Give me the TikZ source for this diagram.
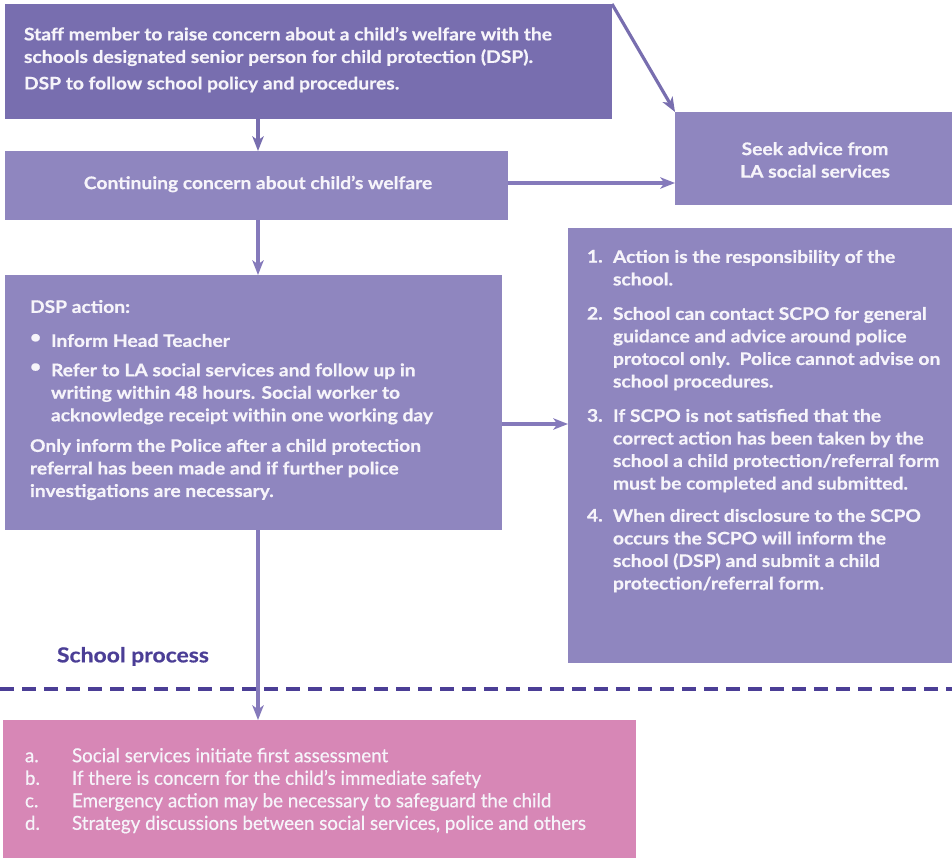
\documentclass[tikz,border=0pt]{standalone}
\usepackage{fontspec}
\setmainfont{Lato}
\newfontfamily\wfont{Lato}[FakeStretch=1.11,FakeBold=0.6]
\newfontfamily\pfont{Lato}[FakeStretch=0.97,FakeBold=0.5]
\usetikzlibrary{arrows.meta}
\definecolor{boxdark}{HTML}{786EAF}
\definecolor{boxlight}{HTML}{8F86BF}
\definecolor{pinkbox}{HTML}{D787B6}
\definecolor{arrowc}{HTML}{857ABB}
\definecolor{darkline}{HTML}{4B3E96}
\definecolor{txt}{HTML}{F6F4FA}
\newcommand{\plab}[1]{\makebox[35.25pt][l]{#1}}
\tikzset{
  btext/.style={inner sep=0, outer sep=0, anchor=north west, align=left, text=txt,
    font=\wfont\fontsize{13}{16.9}\selectfont\bfseries},
  ptext/.style={inner sep=0, outer sep=0, anchor=north west, align=left, text=txt,
    font=\pfont\fontsize{14.5}{16.9}\selectfont},
  conn/.style={draw=arrowc, line width=2.4pt, -{Stealth[length=11pt,width=8.5pt,inset=3pt]}},
}
\begin{document}
\begin{tikzpicture}[x=0.75pt,y=-0.75pt]
\useasboundingbox (0,0) rectangle (952,859);
% boxes
\fill[boxdark] (5,4) rectangle (612,119);
\fill[boxlight] (5,151) rectangle (508,220);
\fill[boxlight] (675,112) rectangle (952,205);
\fill[boxlight] (5,275) rectangle (502,530);
\fill[boxlight] (568,228) rectangle (952,663);
\fill[pinkbox] (3,720) rectangle (636,858);
\coordinate (b1s) at (258,119);
\coordinate (b1ne) at (612,4);
\coordinate (b2n) at (258,151);
\coordinate (b2s) at (258,220);
\coordinate (b2e) at (508,183);
\coordinate (seekw) at (675,183);
\coordinate (seeknw) at (675,112);
\coordinate (dspn) at (258,275);
\coordinate (dsps) at (258,530);
\coordinate (dspe) at (502,424);
\coordinate (rbw) at (568,424);
\coordinate (pinkn) at (258,720);
% dashed line
\draw[darkline, line width=3.2pt, dash pattern=on 10.5pt off 6pt] (0,689) -- (952,689);
% texts
\node[btext] (t1) at (24,27) {Staff member to raise concern about a child’s welfare with the\\schools designated senior person for child protection (DSP).\\[3pt]DSP to follow school policy and procedures.};
\node[btext, anchor=center, align=center] (t2) at (258,184) {Continuing concern about child’s welfare};
\node[btext, anchor=center, align=center] (t3) at (815,160) {Seek advice from\\LA social services};
\node[btext] (t4) at (30,300) {DSP action:};
\node[btext] (t5) at (30,334) {\textbullet\\[5.1pt]\textbullet};
\node[btext] (t6) at (51,334) {Inform Head Teacher\\[5.1pt]Refer to LA social services and follow up in\\writing within 48 hours. Social worker to\\acknowledge receipt within one working day};
\node[btext] (t7) at (30,439) {Only inform the Police after a child protection\\referral has been made and if further police\\investigations are necessary.};
\node[btext] (n1) at (587,250) {1.};
\node[btext] (r1) at (613,250) {Action is the responsibility of the\\school.};
\node[btext] (n2) at (587,307) {2.};
\node[btext] (r2) at (613,307) {School can contact SCPO for general\\guidance and advice around police\\protocol only.\ \ Police cannot advise on\\school procedures.};
\node[btext] (n3) at (587,409) {3.};
\node[btext] (r3) at (613,409) {If SCPO is not satisfied that the\\correct action has been taken by the\\school a child protection/referral form\\must be completed and submitted.};
\node[btext] (n4) at (587,509) {4.};
\node[btext] (r4) at (613,509) {When direct disclosure to the SCPO\\occurs the SCPO will inform the\\school (DSP) and submit a child\\protection/referral form.};
\node[btext, text=darkline, font=\wfont\fontsize{15.5}{17}\selectfont\bfseries] (sp) at (57,647) {School process};
\node[ptext] (pt) at (25,748) {\plab{a.}Social services initiate first assessment\\\plab{b.}If there is concern for the child’s immediate safety\\\plab{c.}Emergency action may be necessary to safeguard the child\\\plab{d.}Strategy discussions between social services, police and others};
% connectors
\draw[conn, draw=boxdark] (b1s) -- (b2n);
\draw[conn] (b2s) -- (dspn);
\draw[conn] (dsps) -- (pinkn);
\draw[conn, draw=boxdark] (b1ne) -- (seeknw);
\draw[conn] (b2e) -- (seekw);
\draw[conn] (dspe) -- (rbw);
\end{tikzpicture}
\end{document}
